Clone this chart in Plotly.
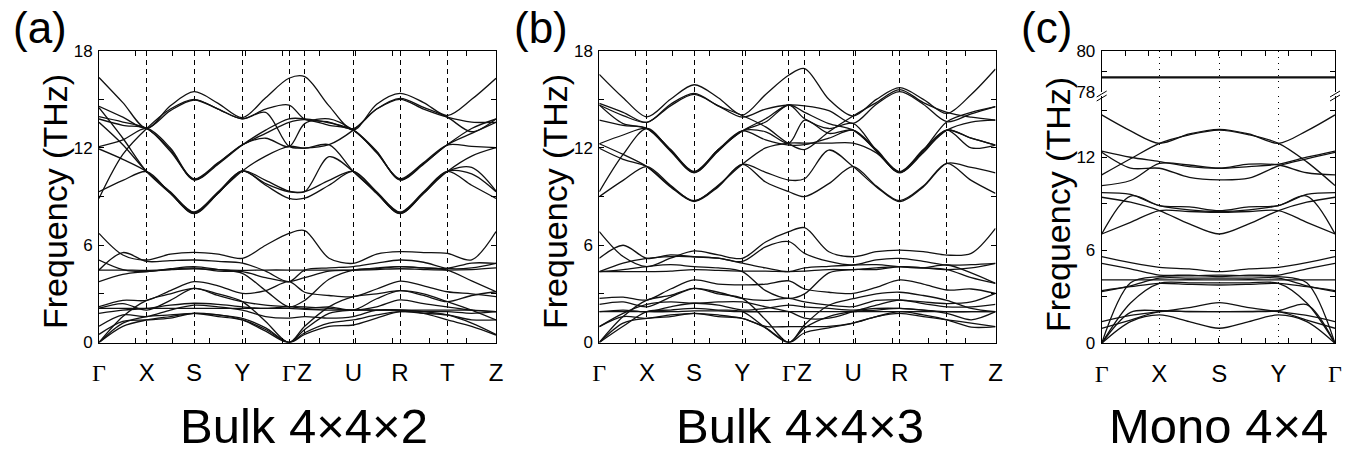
import plotly.graph_objects as go

W, H = 1359, 455

# ---------------- k-path definitions ----------------
PATH_AB_LABELS = ["Γ", "X", "S", "Y", "Γ", "Z", "U", "R", "T", "Z"]
PATH_AB_POS = [0, 47.7, 95, 143.3, 190, 205.7, 254.3, 301, 348.3, 397]
K_AB = [0, 23.85, 47.7, 71.35, 95, 119.15, 143.3, 166.65, 190, 205.7,
        230, 254.3, 277.65, 301, 324.65, 348.3, 372.65, 397]

PATH_C_LABELS = ["Γ", "X", "S", "Y", "Γ"]
PATH_C_POS = [0, 57.6, 117.3, 176.6, 233]
K_C = [0, 28.8, 57.6, 87.45, 117.3, 146.95, 176.6, 204.8, 233]

# ---------------- (a) Bulk 4x4x2 bands (THz) ----------------
A_U1 = [16.35, 14.8, 13.2, 14.6, 15.47, 14.75, 13.87, 15.1, 16.3, 16.4, 14.6, 13.1, 14.7, 15.37, 14.8, 14.0, 15.0, 16.3]
A_U2 = [14.57, 13.9, 13.2, 14.3, 14.96, 14.4, 13.8, 14.2, 12.1, 12.0, 12.2, 13.1, 14.4, 15.06, 14.5, 13.9, 13.0, 13.79]
A_U3 = [13.93, 13.6, 13.2, 11.9, 10.02, 11.0, 12.18, 13.1, 13.8, 13.8, 13.55, 13.1, 11.8, 10.02, 11.0, 12.2, 12.9, 13.58]
A_U4 = [13.79, 13.4, 13.2, 11.8, 10.1, 11.1, 12.18, 12.9, 13.58, 13.75, 13.4, 13.1, 11.7, 10.1, 11.1, 12.18, 12.1, 12.02]
A_U5 = [14.48, 12.6, 10.54, 9.2, 7.97, 9.2, 10.58, 10.0, 9.34, 9.3, 11.46, 10.55, 9.2, 7.97, 9.2, 10.55, 10.8, 9.34]
A_U6 = [13.58, 12.2, 10.54, 9.3, 8.05, 9.3, 10.58, 9.7, 8.89, 8.9, 9.7, 10.55, 9.3, 8.05, 9.3, 10.55, 9.7, 8.89]
A_U7 = [12.08, 12.5, 13.2, 12.0, 10.05, 11.05, 12.2, 12.6, 12.08, 13.5, 13.8, 13.1, 11.75, 10.05, 11.05, 12.2, 13.2, 13.79]
A_U8 = [11.94, 11.3, 10.54, 9.25, 8.0, 9.25, 10.58, 11.5, 12.1, 11.98, 12.2, 10.55, 9.25, 8.0, 9.25, 10.55, 11.5, 12.02]
A_U9 = [8.89, 11.6, 13.2, 14.4, 15.0, 14.4, 13.8, 14.4, 14.65, 13.78, 13.6, 13.2, 14.4, 15.0, 14.4, 13.9, 13.6, 13.58]
A_U10 = [9.3, 10.0, 10.54, 9.2, 7.95, 9.2, 10.58, 9.8, 9.3, 9.3, 10.0, 10.55, 9.2, 7.95, 9.2, 10.55, 10.4, 9.3]

A_L1 = [6.73, 5.4, 5.09, 5.45, 5.56, 5.45, 5.19, 6.0, 6.73, 6.9, 5.2, 4.88, 5.45, 5.6, 5.55, 5.5, 5.1, 6.84]
A_L2 = [4.47, 5.55, 5.0, 5.05, 5.09, 5.0, 4.9, 4.4, 3.75, 4.47, 4.6, 4.68, 4.9, 5.09, 4.95, 4.57, 4.6, 4.88]
A_L3 = [4.47, 4.47, 4.45, 4.5, 4.55, 4.5, 4.45, 4.47, 4.47, 4.47, 4.47, 4.47, 4.5, 4.55, 4.5, 4.47, 4.5, 4.6]
A_L4 = [5.09, 4.5, 4.37, 4.55, 4.68, 4.5, 4.27, 3.2, 2.2, 2.6, 3.9, 4.47, 4.55, 4.68, 4.6, 4.47, 3.8, 3.13]
A_L5 = [2.21, 2.6, 2.6, 3.2, 3.75, 3.5, 3.03, 3.2, 3.75, 3.1, 2.9, 2.83, 3.3, 3.79, 3.5, 3.13, 3.0, 2.83]
A_L6 = [2.11, 2.4, 2.0, 2.6, 3.34, 2.9, 2.52, 2.3, 2.21, 2.1, 2.2, 2.0, 2.7, 3.2, 2.9, 2.52, 2.9, 3.13]
A_L7 = [1.8, 2.0, 2.1, 2.3, 2.42, 2.35, 2.2, 2.1, 2.21, 2.2, 2.1, 2.0, 2.2, 2.63, 2.4, 2.2, 2.0, 1.9]
A_L8 = [2.1, 2.1, 2.1, 2.1, 2.1, 2.1, 2.1, 2.1, 2.1, 2.05, 2.0, 2.0, 2.0, 2.0, 2.0, 2.0, 2.0, 1.9]
A_L9 = [1.0, 1.7, 1.6, 2.0, 2.3, 2.2, 2.0, 1.6, 1.5, 1.6, 1.5, 1.6, 2.0, 2.0, 1.9, 1.9, 1.8, 1.9]
A_L10 = [0.5, 1.3, 1.39, 1.5, 1.8, 1.7, 1.49, 0.9, 0.0, 0.6, 1.2, 1.39, 1.7, 1.9, 1.8, 1.7, 1.4, 1.39]
A_L11 = [0.0, 1.0, 1.39, 1.6, 1.8, 1.6, 1.39, 0.8, 0.0, 0.5, 1.0, 1.08, 1.5, 1.9, 1.8, 1.39, 1.0, 0.46]
A_L12 = [0.0, 1.2, 1.6, 1.7, 1.8, 1.7, 1.39, 0.7, 0.0, 0.8, 1.8, 2.0, 2.0, 2.0, 1.9, 1.7, 1.2, 0.5]
A_L13 = [0.0, 1.6, 2.6, 3.0, 3.34, 3.0, 2.52, 1.3, 0.0, 1.0, 2.2, 2.83, 3.0, 3.2, 3.0, 2.52, 2.0, 1.39]
A_L14 = [3.75, 4.2, 4.37, 4.5, 4.6, 4.4, 4.37, 4.0, 3.75, 4.0, 4.4, 4.47, 4.6, 4.68, 4.6, 4.57, 4.9, 4.88]

BANDS_A = [A_U1, A_U2, A_U3, A_U4, A_U5, A_U6, A_U7, A_U8, A_U9, A_U10,
           A_L1, A_L2, A_L3, A_L4, A_L5, A_L6, A_L7, A_L8, A_L9, A_L10, A_L11, A_L12, A_L13, A_L14]

# ---------------- (b) Bulk 4x4x3 bands (THz) ----------------
B_U1 = [16.54, 15.1, 13.92, 15.0, 15.9, 15.1, 14.03, 15.3, 16.5, 16.9, 15.0, 13.97, 15.0, 15.72, 15.0, 14.13, 15.3, 16.87]
B_U2 = [14.75, 14.2, 13.58, 14.7, 15.37, 14.6, 13.9, 14.4, 14.65, 14.59, 14.3, 13.52, 14.7, 15.47, 14.7, 13.62, 14.1, 14.55]
B_U3 = [14.65, 13.5, 13.2, 11.8, 10.47, 11.8, 13.05, 13.0, 12.3, 13.72, 12.9, 13.1, 11.8, 10.47, 11.8, 13.1, 13.6, 13.72]
B_U4 = [13.72, 13.4, 13.2, 11.9, 10.55, 11.9, 13.05, 12.5, 12.18, 12.2, 12.6, 13.1, 11.9, 10.55, 11.9, 13.1, 12.6, 12.18]
B_U5 = [12.26, 11.6, 10.85, 9.6, 8.69, 9.6, 10.99, 10.5, 10.02, 10.1, 11.87, 10.85, 9.6, 8.69, 9.6, 11.05, 10.8, 10.47]
B_U6 = [11.98, 11.3, 10.85, 9.65, 8.75, 9.65, 10.99, 9.9, 9.3, 9.0, 9.8, 10.85, 9.65, 8.75, 9.65, 11.05, 10.0, 9.2]
B_U7 = [9.3, 11.6, 13.2, 11.85, 10.5, 11.85, 13.05, 13.6, 14.65, 13.8, 13.2, 13.52, 11.85, 10.5, 11.85, 13.62, 14.2, 14.55]
B_U8 = [9.0, 10.0, 10.85, 9.7, 8.72, 9.7, 10.99, 12.0, 12.3, 12.3, 12.3, 12.3, 11.7, 10.5, 11.7, 13.1, 12.6, 12.18]
B_U9 = [14.65, 14.0, 13.58, 14.6, 15.3, 14.6, 14.0, 13.3, 12.26, 11.9, 13.0, 13.97, 14.8, 15.6, 14.8, 14.2, 13.9, 13.72]
B_U10 = [12.26, 12.8, 13.2, 11.9, 10.5, 11.9, 13.05, 13.8, 14.65, 14.2, 13.5, 13.1, 11.85, 10.5, 11.85, 13.1, 12.0, 12.18]

B_L1 = [6.84, 5.3, 4.68, 5.2, 5.65, 5.4, 5.19, 6.2, 6.84, 7.08, 5.6, 5.29, 5.6, 5.7, 5.6, 5.39, 5.5, 7.04]
B_L2 = [5.19, 6.0, 5.19, 5.4, 5.29, 5.2, 5.0, 5.9, 6.22, 5.5, 5.0, 4.78, 5.1, 5.19, 5.0, 4.78, 4.8, 4.88]
B_L3 = [4.37, 4.37, 4.37, 4.4, 4.5, 4.45, 4.4, 4.4, 4.37, 4.4, 4.5, 4.5, 4.6, 4.68, 4.6, 4.5, 4.6, 4.88]
B_L4 = [4.37, 4.5, 4.68, 4.8, 4.68, 4.6, 4.37, 3.2, 2.72, 3.0, 4.3, 4.5, 4.5, 4.68, 4.6, 4.5, 4.0, 3.65]
B_L5 = [2.72, 2.8, 2.62, 3.3, 3.86, 3.6, 3.55, 3.6, 3.8, 3.3, 3.1, 3.03, 3.4, 3.86, 3.6, 3.24, 3.3, 3.03]
B_L6 = [2.35, 2.5, 2.2, 2.8, 3.34, 3.1, 2.72, 2.6, 2.72, 2.5, 2.3, 2.21, 2.6, 2.62, 2.5, 2.4, 2.5, 3.03]
B_L7 = [1.9, 2.0, 1.9, 2.2, 2.42, 2.3, 2.0, 2.1, 2.3, 2.2, 2.1, 2.0, 2.1, 2.1, 2.0, 1.9, 1.9, 1.9]
B_L8 = [1.9, 1.9, 1.9, 1.9, 1.95, 1.95, 1.9, 1.9, 1.9, 1.9, 1.9, 1.9, 1.9, 1.9, 1.9, 1.9, 1.9, 1.9]
B_L9 = [0.98, 1.6, 1.49, 1.7, 1.8, 1.7, 1.49, 1.0, 0.98, 0.98, 1.0, 1.2, 1.6, 1.8, 1.6, 1.4, 1.2, 0.98]
B_L10 = [0.0, 1.2, 1.49, 1.6, 1.8, 1.6, 1.49, 0.9, 0.0, 0.6, 0.9, 1.2, 1.6, 1.9, 1.7, 1.4, 0.95, 0.98]
B_L11 = [0.0, 1.0, 1.9, 2.0, 2.1, 2.0, 1.9, 0.9, 0.0, 0.9, 1.6, 1.9, 2.0, 2.1, 2.0, 1.8, 1.4, 1.9]
B_L12 = [0.0, 1.6, 2.62, 2.9, 3.34, 3.0, 2.72, 1.4, 0.0, 1.1, 2.3, 2.7, 3.0, 3.1, 2.9, 2.6, 2.1, 1.9]
B_L13 = [0.98, 1.8, 2.35, 2.5, 2.42, 2.5, 2.5, 2.2, 1.9, 1.5, 1.5, 1.9, 2.3, 2.62, 2.4, 2.2, 2.2, 2.35]
B_L14 = [4.37, 4.9, 5.19, 5.3, 5.29, 5.2, 4.9, 4.6, 4.37, 4.6, 4.7, 4.78, 4.8, 4.68, 4.6, 4.78, 4.3, 3.65]

BANDS_B = [B_U1, B_U2, B_U3, B_U4, B_U5, B_U6, B_U7, B_U8, B_U9, B_U10,
           B_L1, B_L2, B_L3, B_L4, B_L5, B_L6, B_L7, B_L8, B_L9, B_L10, B_L11, B_L12, B_L13, B_L14]

# ---------------- (c) Mono 4x4 bands (THz) ----------------
C_TOP1 = [78.73, 78.73, 78.73, 78.72, 78.72, 78.72, 78.73, 78.73, 78.73]
C_TOP2 = [78.69, 78.69, 78.69, 78.70, 78.70, 78.70, 78.69, 78.69, 78.69]

C1 = [14.73, 13.7, 12.9, 13.5, 13.8, 13.5, 12.9, 13.7, 14.73]
C2 = [12.4, 12.0, 11.72, 11.4, 11.29, 11.4, 11.55, 12.0, 12.4]
C3 = [12.32, 11.3, 11.29, 10.7, 10.54, 10.65, 11.45, 11.9, 12.32]
C4 = [10.86, 11.9, 12.9, 13.45, 13.75, 13.45, 12.9, 11.7, 10.17]
C5 = [10.17, 10.5, 11.6, 11.5, 11.29, 11.55, 11.5, 11.0, 10.86]
C6 = [9.72, 9.6, 8.88, 8.8, 8.56, 8.8, 8.88, 9.6, 9.72]
C7 = [9.42, 9.1, 8.56, 7.7, 7.05, 7.7, 8.56, 9.1, 9.42]
C8 = [7.05, 9.5, 8.88, 8.6, 8.5, 8.6, 8.88, 9.5, 7.05]
C9 = [7.05, 7.8, 8.56, 8.5, 8.45, 8.5, 8.56, 7.8, 7.05]
C10 = [5.59, 5.2, 4.9, 4.8, 4.62, 4.8, 4.9, 5.2, 5.59]
C11 = [5.16, 4.8, 4.4, 4.4, 4.3, 4.4, 4.4, 4.8, 5.16]
C12 = [4.09, 4.09, 4.09, 4.1, 4.09, 4.1, 4.09, 4.09, 4.09]
C13 = [3.33, 3.7, 4.2, 4.2, 4.2, 4.2, 4.2, 3.7, 3.33]
C14 = [3.4, 3.65, 3.87, 3.8, 3.76, 3.8, 3.87, 3.65, 3.4]
C15 = [0.0, 3.9, 4.3, 4.35, 4.4, 4.35, 4.3, 3.9, 0.0]
C16 = [0.0, 2.6, 3.87, 3.9, 3.9, 3.9, 3.87, 2.6, 0.0]
C17 = [1.4, 1.8, 2.04, 2.3, 2.62, 2.3, 2.04, 1.8, 1.4]
C18 = [0.0, 1.4, 1.83, 1.4, 0.97, 1.4, 1.83, 1.4, 0.0]
C19 = [0.0, 2.0, 2.1, 2.05, 2.04, 2.05, 2.1, 2.5, 0.0]
C20 = [0.97, 1.5, 2.04, 2.04, 2.04, 2.04, 2.04, 1.5, 0.97]

BANDS_C = [C1, C2, C3, C4, C5, C6, C7, C8, C9, C10, C11, C12, C13, C14, C15, C16, C17, C18, C19, C20]
BANDS_C_TOP = [C_TOP1, C_TOP2]

# ---------------- layout helpers ----------------
def px_x(p):
    return p / W

def px_y(p):
    return 1 - p / H

LINE = dict(color="#111111", width=1.3, shape="spline", smoothing=0.9)
FONT = "Liberation Sans, Arial, sans-serif"

def tick_text(labels):
    out = []
    for t in labels:
        if t == "Γ":
            out.append('<span style="font-family:Liberation Serif, Times New Roman, serif">Γ</span>')
        else:
            out.append(t)
    return out

fig = go.Figure()

for band in BANDS_A:
    fig.add_trace(go.Scatter(x=K_AB, y=band, mode="lines", line=LINE, xaxis="x", yaxis="y",
                             showlegend=False, hoverinfo="skip"))
for band in BANDS_B:
    fig.add_trace(go.Scatter(x=K_AB, y=band, mode="lines", line=LINE, xaxis="x2", yaxis="y2",
                             showlegend=False, hoverinfo="skip"))
for band in BANDS_C:
    fig.add_trace(go.Scatter(x=K_C, y=band, mode="lines", line=LINE, xaxis="x3", yaxis="y3",
                             showlegend=False, hoverinfo="skip"))
for band in BANDS_C_TOP:
    fig.add_trace(go.Scatter(x=K_C, y=band, mode="lines", line=dict(color="#111111", width=1.3),
                             xaxis="x4", yaxis="y4", showlegend=False, hoverinfo="skip"))

MINOR_AB = [i * 36.7 for i in range(1, 11)]
MINOR_C = [i * 23.3 for i in range(1, 10)]

def xaxis_common(domain, anchor, pos, labels, minor_vals, rng, dash):
    return dict(
        domain=domain, anchor=anchor, range=rng, tickmode="array", automargin=False,
        tickvals=pos, ticktext=tick_text(labels), ticks="", tickangle=0, showline=True,
        linecolor="black", linewidth=1, mirror="allticks", showgrid=True,
        gridcolor="black", gridwidth=1, griddash=dash, zeroline=False,
        tickfont=dict(family=FONT, size=24, color="black"), ticklabelstandoff=9,
        minor=dict(tickmode="array", tickvals=minor_vals, ticks="inside", ticklen=5,
                   tickcolor="black", showgrid=False),
    )

def yaxis_common(domain, anchor, rng, tvals, minor_vals):
    return dict(
        domain=domain, anchor=anchor, range=rng, tickmode="array", tickvals=tvals,
        automargin=False, tickangle=0,
        ticks="inside", ticklen=5, tickcolor="black", showline=True, linecolor="black",
        linewidth=1, mirror="allticks", showgrid=False, zeroline=False,
        tickfont=dict(family=FONT, size=17, color="black"), ticklabelstandoff=2,
        minor=dict(tickmode="array", tickvals=minor_vals, ticks="inside", ticklen=5,
                   tickcolor="black", showgrid=False),
    )

y_ab = [px_y(342.5), px_y(50.7)]
fig.update_layout(
    template="none",
    xaxis=xaxis_common([px_x(99), px_x(496)], "y", PATH_AB_POS, PATH_AB_LABELS, MINOR_AB, [0, 397], "5px,4px"),
    yaxis=yaxis_common(y_ab, "x", [0, 18], [0, 6, 12, 18], [3, 9, 15]),
    xaxis2=xaxis_common([px_x(599.3), px_x(995.5)], "y2", PATH_AB_POS, PATH_AB_LABELS, MINOR_AB, [0, 397], "5px,4px"),
    yaxis2=yaxis_common(y_ab, "x2", [0, 18], [0, 6, 12, 18], [3, 9, 15]),
)

xc = xaxis_common([px_x(1101.7), px_x(1335)], "y3", PATH_C_POS, PATH_C_LABELS, MINOR_C, [0, 233], "1px,5px")
xc["mirror"] = False
fig.layout.xaxis3 = xc
fig.layout.yaxis3 = yaxis_common([px_y(343.3), px_y(96)], "x3", [0, 15.95], [0, 6, 12], [3, 9, 15])

xc4 = xaxis_common([px_x(1101.7), px_x(1335)], "y4", PATH_C_POS, PATH_C_LABELS, MINOR_C, [0, 233], "1px,5px")
xc4["mirror"] = False
xc4["side"] = "top"
xc4["showticklabels"] = False
xc4["matches"] = "x3"
fig.layout.xaxis4 = xc4
fig.layout.yaxis4 = yaxis_common([px_y(92), px_y(50.7)], "x4", [78, 80], [78, 80], [79])

ann = []
for txt, cx in [("(a)", 40), ("(b)", 541), ("(c)", 1046)]:
    ann.append(dict(text=txt, x=px_x(cx), y=px_y(27), xref="paper", yref="paper",
                    showarrow=False, xanchor="center", yanchor="middle",
                    font=dict(family=FONT, size=44, color="black")))
for cx, cy in [(55, 202), (555, 202), (1058, 205)]:
    ann.append(dict(text="Frequency (THz)", x=px_x(cx), y=px_y(cy), xref="paper", yref="paper",
                    showarrow=False, textangle=-90, xanchor="center", yanchor="middle",
                    font=dict(family=FONT, size=34, color="black")))
for txt, cx in [("Bulk 4×4×2", 304), ("Bulk 4×4×3", 800), ("Mono 4×4", 1218)]:
    ann.append(dict(text=txt, x=px_x(cx), y=px_y(426), xref="paper", yref="paper",
                    showarrow=False, xanchor="center", yanchor="middle",
                    font=dict(family=FONT, size=49, color="black")))

shapes = []
for bx in [1101.7, 1335]:
    shapes.append(dict(type="rect", xref="paper", yref="paper",
                       x0=px_x(bx - 1.5), y0=px_y(96), x1=px_x(bx + 1.5), y1=px_y(92),
                       line=dict(width=0), fillcolor="white"))
    for dy in [0, 4]:
        shapes.append(dict(type="line", xref="paper", yref="paper",
                           x0=px_x(bx - 5), y0=px_y(97 + dy), x1=px_x(bx + 5), y1=px_y(91 + dy),
                           line=dict(color="black", width=1)))

fig.update_layout(
    width=W, height=H, margin=dict(l=0, r=0, t=0, b=0, autoexpand=False),
    paper_bgcolor="white", plot_bgcolor="white",
    annotations=ann, shapes=shapes, showlegend=False,
    font=dict(family=FONT, color="black"),
)

fig.write_html("out.html")
